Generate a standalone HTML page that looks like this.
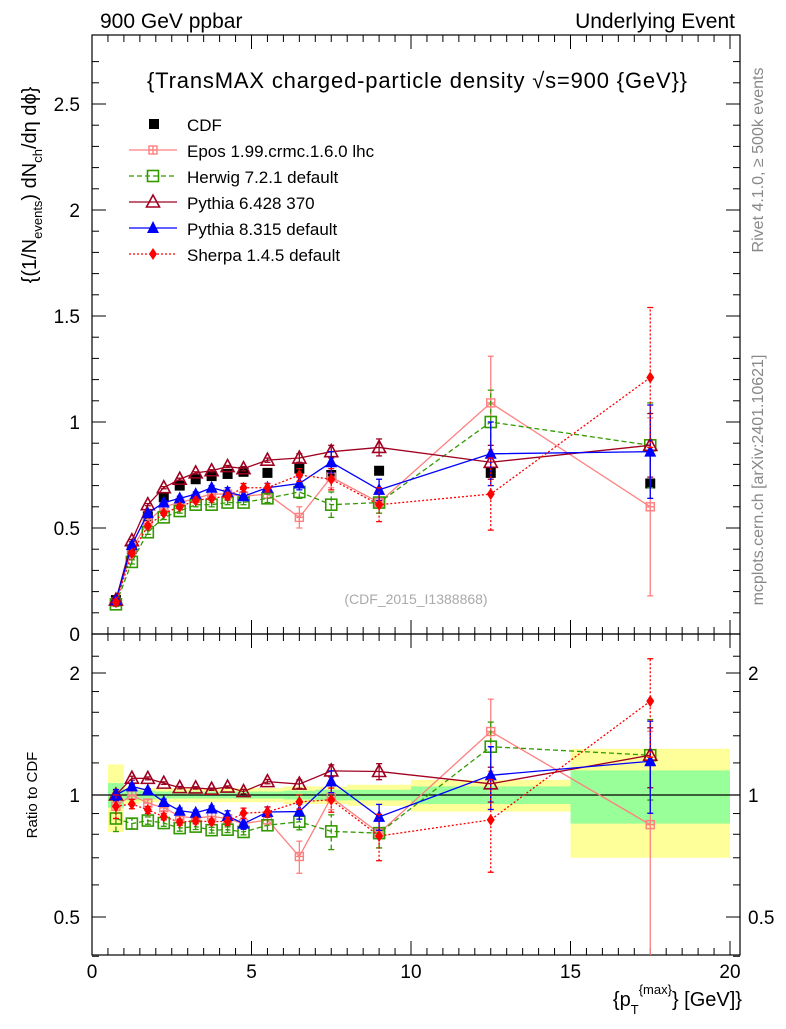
<!DOCTYPE html>
<html><head><meta charset="utf-8"><style>
body{margin:0;background:#fff;}
svg text{font-family:"Liberation Sans",sans-serif;}
</style></head><body>
<svg id="chart" width="786" height="1024" xmlns="http://www.w3.org/2000/svg"></svg>
<script>
const xCenters=[0.75,1.25,1.75,2.25,2.75,3.25,3.75,4.25,4.75,5.5,6.5,7.5,9,12.5,17.5];
const xHalf=[0.25,0.25,0.25,0.25,0.25,0.25,0.25,0.25,0.25,0.5,0.5,0.5,1,2.5,2.5];
const cdfVals=[0.16,0.40,0.555,0.645,0.70,0.73,0.745,0.755,0.765,0.76,0.78,0.75,0.77,0.76,0.71];
const cdfStatRel=[0.07,0.03,0.025,0.02,0.02,0.02,0.02,0.02,0.02,0.02,0.025,0.03,0.03,0.05,0.15];
const cdfTotRel=[0.19,0.05,0.04,0.04,0.04,0.04,0.04,0.04,0.04,0.04,0.05,0.05,0.06,0.09,0.30];
const eposVals=[0.15,0.40,0.53,0.60,0.62,0.64,0.66,0.66,0.65,0.66,0.55,0.74,0.62,1.09,0.60];
const eposErr=[0.01,0.01,0.01,0.01,0.01,0.01,0.015,0.015,0.02,0.02,0.05,0.05,0.05,0.22,0.42];
const herwigVals=[0.14,0.34,0.48,0.55,0.58,0.61,0.61,0.62,0.62,0.64,0.67,0.61,0.62,1.0,0.89];
const herwigErr=[0.01,0.01,0.01,0.01,0.01,0.01,0.01,0.01,0.01,0.02,0.03,0.06,0.05,0.15,0.2];
const py6Vals=[0.16,0.44,0.61,0.69,0.73,0.76,0.77,0.79,0.78,0.82,0.83,0.86,0.88,0.81,0.89];
const py6Err=[0.005,0.005,0.005,0.005,0.005,0.005,0.005,0.005,0.01,0.01,0.02,0.03,0.04,0.08,0.15];
const py8Vals=[0.16,0.42,0.57,0.62,0.64,0.66,0.69,0.67,0.65,0.69,0.71,0.81,0.68,0.85,0.86];
const py8Err=[0.005,0.005,0.005,0.01,0.01,0.01,0.01,0.02,0.02,0.02,0.03,0.05,0.05,0.15,0.22];
const sherpaVals=[0.15,0.38,0.51,0.57,0.60,0.63,0.64,0.65,0.69,0.69,0.75,0.73,0.61,0.66,1.21];
const sherpaErr=[0.01,0.01,0.01,0.01,0.01,0.01,0.01,0.015,0.02,0.02,0.03,0.05,0.08,0.17,0.33];
const mainTicks=[0.5,1,1.5,2,2.5];
const ratioTicks=[0.5,1,2];
const xTicks=[0,5,10,15,20];

const NS="http://www.w3.org/2000/svg";
const svg=document.getElementById('chart');
const L=92,R=740;
const X=v=>92+v*31.9;
const Ym=v=>634-v*212;
const Yr=v=>795-Math.log2(v)*122;
function el(tag,attrs,parent){const e=document.createElementNS(NS,tag);for(const k in attrs)e.setAttribute(k,attrs[k]);(parent||svg).appendChild(e);return e;}
function txt(s,x,y,size,anchor,fill,parent){const t=el('text',{x:x,y:y,'font-size':size,'text-anchor':anchor||'start',fill:fill||'#000'},parent);t.textContent=s;return t;}

const defs=el('defs',{});
const cp=el('clipPath',{id:'rc'},defs);el('rect',{x:L,y:634,width:R-L,height:321},cp);
const cm=el('clipPath',{id:'mc'},defs);el('rect',{x:L,y:35,width:R-L,height:599},cm);

const bands=el('g',{'clip-path':'url(#rc)'});


xCenters.forEach((c,i)=>{
 const x0=X(c-xHalf[i]),x1=X(c+xHalf[i]);
 let r=el('rect',{x:x0,y:Yr(1+cdfTotRel[i]),width:x1-x0,height:Yr(1-cdfTotRel[i])-Yr(1+cdfTotRel[i]),fill:'#ffff99'},bands);
 
 
 r=el('rect',{x:x0,y:Yr(1+cdfStatRel[i]),width:x1-x0,height:Yr(1-cdfStatRel[i])-Yr(1+cdfStatRel[i]),fill:'#99ff99'},bands);
 
 
});
el('line',{x1:L,x2:R,y1:Yr(1),y2:Yr(1),stroke:'#000','stroke-width':1.2});

let f=el('rect',{x:L,y:35,width:R-L,height:599,fill:'none',stroke:'#000','stroke-width':1.2});

f=el('rect',{x:L,y:634,width:R-L,height:321,fill:'none',stroke:'#000','stroke-width':1.2});


for(let v=0;v<=20.01;v+=0.5){
 const big=Math.abs(v-Math.round(v/5)*5)<0.01; const x=X(v);
 const len=big?14:7;
 el('line',{x1:x,x2:x,y1:634,y2:634-len,stroke:'#000'});el('line',{x1:x,x2:x,y1:35,y2:35+len,stroke:'#000'});
 el('line',{x1:x,x2:x,y1:955,y2:955-len,stroke:'#000'});el('line',{x1:x,x2:x,y1:634,y2:634+len,stroke:'#000'});
}
xTicks.forEach(v=>{const t=txt(String(v),X(v),978,19,'middle');});
for(let v=0;v<=2.8;v+=0.1){const big=Math.abs(v*2-Math.round(v*2))<0.01;const len=big?14:7;const y=Ym(v);
 el('line',{x1:L,x2:L+len,y1:y,y2:y,stroke:'#000'});el('line',{x1:R,x2:R-len,y1:y,y2:y,stroke:'#000'});}
mainTicks.forEach(v=>{const t=txt(String(v),80,Ym(v)+7,19,'end');});
txt('0',80,641,19,'end');
[0.4,0.5,0.6,0.7,0.8,0.9,1,1.2,1.4,1.6,1.8,2,2.2].forEach(v=>{const big=[0.5,1,2].includes(v);const len=big?14:7;const y=Yr(v);
 el('line',{x1:L,x2:L+len,y1:y,y2:y,stroke:'#000'});el('line',{x1:R,x2:R-len,y1:y,y2:y,stroke:'#000'});});
ratioTicks.forEach(v=>{let t=txt(String(v),80,Yr(v)+7,19,'end');
 t=txt(String(v),748,Yr(v)+7,19,'start');});

const series=[
 {name:'epos',vals:eposVals,err:eposErr,color:'#ff7f7f',dash:'',m:'cross'},
 {name:'herwig',vals:herwigVals,err:herwigErr,color:'#339900',dash:'5,3',m:'osq'},
 {name:'pythia6',vals:py6Vals,err:py6Err,color:'#a00020',dash:'',m:'otri'},
 {name:'pythia8',vals:py8Vals,err:py8Err,color:'#0000ff',dash:'',m:'tri'},
 {name:'sherpa',vals:sherpaVals,err:sherpaErr,color:'#ff0000',dash:'2,2',m:'dia'}
];
function marker(type,x,y,c,g){
 if(type==='cross'){el('rect',{x:x-4,y:y-4,width:8,height:8,fill:'none',stroke:c,'stroke-width':1.4},g);el('line',{x1:x-4,x2:x+4,y1:y,y2:y,stroke:c,'stroke-width':1.4},g);el('line',{x1:x,x2:x,y1:y-4,y2:y+4,stroke:c,'stroke-width':1.4},g);}
 else if(type==='osq')el('rect',{x:x-5.5,y:y-5.5,width:11,height:11,fill:'none',stroke:c,'stroke-width':1.6},g);
 else if(type==='otri')el('polygon',{points:`${x},${y-7} ${x-6.5},${y+5} ${x+6.5},${y+5}`,fill:'none',stroke:c,'stroke-width':1.6},g);
 else if(type==='tri')el('polygon',{points:`${x},${y-7} ${x-6},${y+5} ${x+6},${y+5}`,fill:c},g);
 else if(type==='dia')el('polygon',{points:`${x},${y-6} ${x+4},${y} ${x},${y+6} ${x-4},${y}`,fill:c},g);
 else if(type==='sq')el('rect',{x:x-5,y:y-5,width:10,height:10,fill:c},g);
}
function drawSeries(s,Y,ratio,clip,panel){
 const g=el('g',{'clip-path':clip});
 
 
 const v=s.vals.map((a,i)=>ratio?a/cdfVals[i]:a);
 const e=s.err.map((a,i)=>ratio?a/cdfVals[i]:a);
 el('polyline',{points:xCenters.map((c,i)=>X(c)+','+Y(v[i])).join(' '),fill:'none',stroke:s.color,'stroke-width':1.3,'stroke-dasharray':s.dash},g);
 xCenters.forEach((c,i)=>{const x=X(c);
  el('line',{x1:x,x2:x,y1:Y(Math.max(v[i]-e[i],0.01)),y2:Y(v[i]+e[i]),stroke:s.color,'stroke-width':1.3,'stroke-dasharray':s.dash},g);
  [v[i]-e[i],v[i]+e[i]].forEach(b=>{if(b>0)el('line',{x1:x-3,x2:x+3,y1:Y(b),y2:Y(b),stroke:s.color,'stroke-width':1.3},g);});
  marker(s.m,x,Y(v[i]),s.color,g);});
}
const cg=el('g',{});
xCenters.forEach((c,i)=>marker('sq',X(c),Ym(cdfVals[i]),'#000',cg));
series.forEach(s=>drawSeries(s,Ym,false,'url(#mc)','main'));
series.forEach(s=>drawSeries(s,Yr,true,'url(#rc)','ratio'));

const lg=el('g',{});
marker('sq',154,124,'#000',lg);txt('CDF',187,131,17,'start','#000',lg);
const names=['Epos 1.99.crmc.1.6.0 lhc','Herwig 7.2.1 default','Pythia 6.428 370','Pythia 8.315 default','Sherpa 1.4.5 default'];
series.forEach((s,i)=>{const y=150+i*26;
 const e=el('g',{},lg);
 el('line',{x1:129,x2:177,y1:y,y2:y,stroke:s.color,'stroke-width':1.3,'stroke-dasharray':s.dash},e);
 marker(s.m,153,y,s.color,e);txt(names[i],187,y+7,17,'start','#000',e);});

let t=txt('900 GeV ppbar',100,28,21);
t=txt('Underlying Event',735,28,21,'end');
t=txt('{TransMAX charged-particle density √s=900 {GeV}}',417,88,22,'middle');
t.setAttribute('textLength','540');
t=txt('(CDF_2015_I1388868)',416,604,14,'middle','#aaa');
t=el('text',{x:0,y:0,'font-size':20,'text-anchor':'middle',transform:'translate(36,185) rotate(-90)'});
t.innerHTML='{(1/N<tspan font-size="13" dy="6">events</tspan><tspan dy="-6">) dN</tspan><tspan font-size="13" dy="6">ch</tspan><tspan dy="-6">/dη dϕ}</tspan>';

t=el('text',{x:0,y:0,'font-size':15,'text-anchor':'middle',transform:'translate(37,795) rotate(-90)'});t.textContent='Ratio to CDF';

t=el('text',{x:0,y:0,'font-size':20,'text-anchor':'end'});t.setAttribute('x',742);t.setAttribute('y',1006);
t.innerHTML='{p<tspan font-size="13" dy="8">T</tspan><tspan font-size="13" dy="-20">{max}</tspan><tspan dy="12">} [GeV]}</tspan>';

t=el('text',{x:0,y:0,'font-size':16,'text-anchor':'middle',fill:'#888',transform:'translate(763,160) rotate(-90)'});t.textContent='Rivet 4.1.0, ≥ 500k events';

t=el('text',{x:0,y:0,'font-size':16,'text-anchor':'middle',fill:'#888',transform:'translate(763,480) rotate(-90)'});t.textContent='mcplots.cern.ch [arXiv:2401.10621]';

</script>
</body></html>
